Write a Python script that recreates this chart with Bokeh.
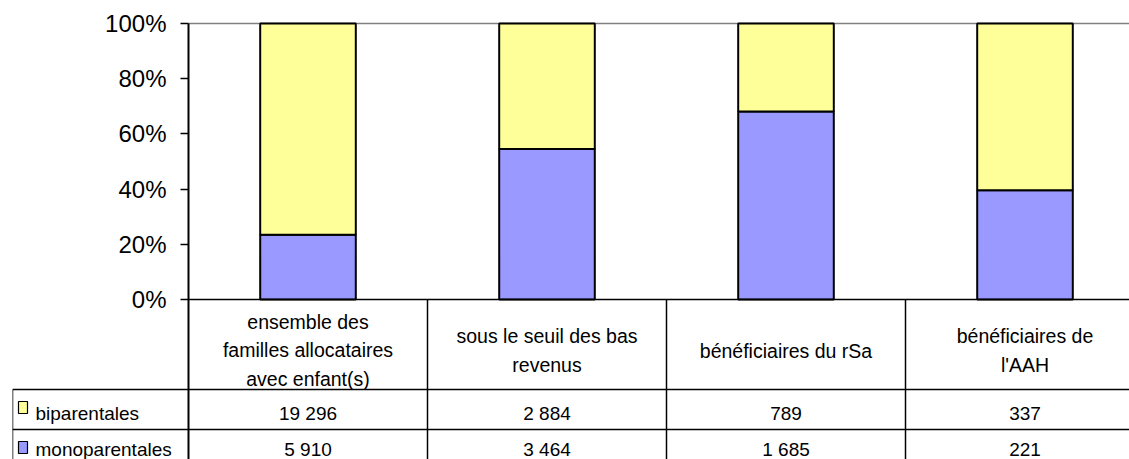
from bokeh.plotting import figure
from bokeh.models import Range1d, LinearAxis, FixedTicker, NumeralTickFormatter
from bokeh.core.properties import value
from bokeh.embed import file_html
from bokeh.resources import INLINE

# ---------------- data ----------------
categories = [
    "ensemble des\nfamilles allocataires\navec enfant(s)",
    "sous le seuil des bas\nrevenus",
    "bénéficiaires du rSa",
    "bénéficiaires de\nl'AAH",
]
series_names = ["biparentales", "monoparentales"]
biparentales = [19296, 2884, 789, 337]
monoparentales = [5910, 3464, 1685, 221]
y_ticks = [0, 0.2, 0.4, 0.6, 0.8, 1.0]

# ---------------- style / geometry ----------------
FONT = "Liberation Sans"
YELLOW = "#FFFF99"
BLUE = "#9999FF"
W, H = 1129, 459
B_LEFT = 12
TOP_PAD = 23.0      # px above the 100 % line
UX = 239.0          # px per category
UY = 276.0          # px per 100 %
LEFT_COL = 176.0    # px of legend column left of the axis
frame_w = W - B_LEFT
frame_h = H
x0 = -LEFT_COL / UX
x1 = (frame_w - LEFT_COL) / UX
y1 = 1.0 + TOP_PAD / UY
y0 = y1 - frame_h / UY

n = len(categories)
xc = [i + 0.5 for i in range(n)]
totals = [b + m for b, m in zip(biparentales, monoparentales)]
mono_share = [m / t for m, t in zip(monoparentales, totals)]

p = figure(width=W, height=H, output_backend="svg", toolbar_location=None,
           x_axis_type=None, y_axis_type=None,
           x_range=Range1d(x0, x1), y_range=Range1d(y0, y1),
           min_border_left=B_LEFT, min_border_right=0,
           min_border_top=0, min_border_bottom=0)
p.outline_line_color = None
p.background_fill_color = "white"
p.border_fill_color = "white"

# y axis at x = 0
ax = LinearAxis(fixed_location=0, ticker=FixedTicker(ticks=y_ticks),
                formatter=NumeralTickFormatter(format="0%"))
ax.bounds = (y0, 1.0)
ax.axis_line_color = "black"
ax.axis_line_width = 2
ax.major_tick_line_color = "black"
ax.major_tick_line_width = 1.5
ax.major_tick_in = 0
ax.major_tick_out = 8
ax.minor_tick_line_color = None
ax.major_label_text_font = FONT
ax.major_label_text_font_size = "24px"
ax.major_label_text_color = "black"
ax.major_label_standoff = 14
p.add_layout(ax, "left")

# top gray line at 100%
p.segment(x0=[0], y0=[1.0], x1=[x1], y1=[1.0], line_color="#808080", line_width=1.5)

# stacked bars
p.vbar(x=xc, bottom=0, top=mono_share, width=0.4, fill_color=BLUE,
       line_color="black", line_width=2)
p.vbar(x=xc, bottom=mono_share, top=1.0, width=0.4, fill_color=YELLOW,
       line_color="black", line_width=2)

# ---------------- data table ----------------
hdr_b = -90 / UY
r1_b = hdr_b - 40 / UY
r2_b = r1_b - 40 / UY

# horizontal lines
p.segment(x0=[0, x0, x0], y0=[0, hdr_b, r1_b], x1=[x1, x1, x1], y1=[0, hdr_b, r1_b],
          line_color="black", line_width=1.5)
# vertical lines
vx = [x0] + [float(i) for i in range(1, n)]
vy_top = [hdr_b] + [0.0] * (n - 1)
p.segment(x0=vx, y0=vy_top, x1=vx, y1=[y0] * len(vx), line_color="black", line_width=1.5)

# header labels
p.text(x=xc, y=[hdr_b / 2] * n, text=categories, text_align="center",
       text_baseline="middle", text_font=value(FONT), text_font_size="19.5px",
       text_color="black", text_line_height=1.3, y_offset=6)

fmt = lambda v: f"{v:,}".replace(",", " ")
row_c = [(hdr_b + r1_b) / 2, (r1_b + r2_b) / 2]
row_off = [4, 0]   # last row lifted a little so it stays inside the window
for vals, yc, off in zip([biparentales, monoparentales], row_c, row_off):
    p.text(x=xc, y=[yc] * n, text=[fmt(v) for v in vals], text_align="center",
           text_baseline="middle", text_font=value(FONT), text_font_size="19px",
           text_color="black", y_offset=off)

# legend column
lx_key = x0 + 10.5 / UX
lx_txt = x0 + 23 / UX
p.rect(x=[lx_key] * 2, y=[c + 2 / UY for c in row_c], width=9, height=12,
       width_units="screen", height_units="screen", fill_color=[YELLOW, BLUE],
       line_color="black", line_width=1.2)
for name, yc, off in zip(series_names, row_c, row_off):
    p.text(x=[lx_txt], y=[yc], text=[name], text_align="left",
           text_baseline="middle", text_font=value(FONT), text_font_size="19px",
           text_color="black", y_offset=off)

open("out.html", "w").write(file_html(p, INLINE))
